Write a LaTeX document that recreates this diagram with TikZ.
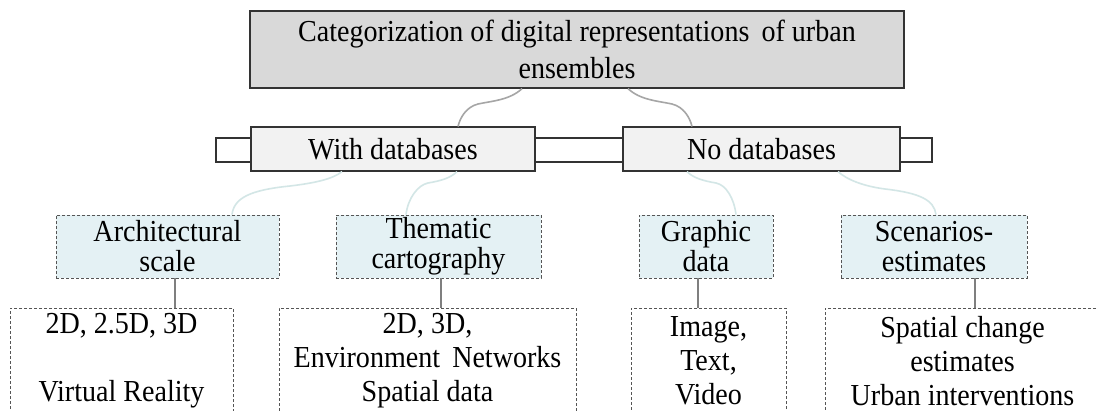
\documentclass[tikz,border=0pt]{standalone}
\usepackage{fontspec}
\setmainfont[FakeStretch=0.92]{Liberation Serif}
\definecolor{topfill}{HTML}{D9D9D9}
\definecolor{lvfill}{HTML}{F2F2F2}
\definecolor{catfill}{HTML}{E4F1F4}
\definecolor{edgedark}{HTML}{333333}
\definecolor{dashcol}{HTML}{555555}
\definecolor{curveA}{HTML}{A6A6A6}
\definecolor{curveB}{HTML}{D3E6E6}
\definecolor{vline}{HTML}{7F7F7F}
\begin{document}
\begin{tikzpicture}[x=1pt,y=-1pt,
  every node/.style={inner sep=0pt, align=center},
  topbox/.style={draw=edgedark, line width=1.2pt, fill=topfill, font=\fontsize{30.5}{37}\selectfont},
  barbox/.style={draw=edgedark, line width=1.1pt, fill=white},
  lvbox/.style={draw=edgedark, line width=1.1pt, fill=lvfill, font=\fontsize{30.5}{34}\selectfont},
  catbox/.style={draw=dashcol, line width=0.9pt, dash pattern=on 3pt off 2pt, fill=catfill, font=\fontsize{30.5}{30}\selectfont},
  detbox/.style={draw=dashcol, line width=0.9pt, dash pattern=on 3pt off 2pt, fill=white, font=\fontsize{30.5}{34}\selectfont},
  lvone/.style={draw=curveA, line width=1.6pt},
  lvtwo/.style={draw=curveB, line width=1.6pt},
  vconn/.style={draw=vline, line width=1.3pt}]
\useasboundingbox (0,0) rectangle (1098,410);
\clip (0,0) rectangle (1098,410);
\fill[white] (0,0) rectangle (1098,410);

% top
\node[topbox, minimum width=654pt, minimum height=77pt] (top) at (577,49.5)
  {Categorization of digital representations\, of urban\\ensembles};

% bar and level 1
\node[barbox, minimum width=716pt, minimum height=24pt] (bar) at (574,150) {};
\node[lvbox, minimum width=284pt, minimum height=44pt] (withdb) at (393,149) {With databases};
\node[lvbox, minimum width=277pt, minimum height=44pt] (nodb) at (761.5,149) {No databases};

% level 2
\node[catbox, minimum width=223pt, minimum height=63pt] (arch) at (167.5,246.5) {Architectural\\scale};
\node[catbox, minimum width=205pt, minimum height=63pt] (them) at (438.5,246.5) {Thematic\\cartography};
\node[catbox, minimum width=134pt, minimum height=63pt] (graph) at (706,246.5) {Graphic\\data};
\node[catbox, minimum width=186pt, minimum height=63pt] (scen) at (934,246.5) {Scenarios-\\estimates};

% details
\node[detbox, minimum width=223pt, minimum height=106pt] (archd) at (121.5,361) {2D, 2.5D, 3D\\[34pt]Virtual Reality};
\node[detbox, minimum width=297pt, minimum height=106pt] (themd) at (427.5,361) {2D, 3D,\\Environment\, Networks\\Spatial data};
\node[detbox, minimum width=155pt, minimum height=106pt] (graphd) at (708.5,361) {Image,\\Text,\\Video};
\node[detbox, minimum width=275pt, minimum height=106pt] (scend) at (962.5,361) {Spatial change\\estimates\\Urban interventions};

% connector anchor columns
\coordinate (xb0) at (522,0); \coordinate (xb1) at (458,0);
\coordinate (xc0) at (628,0); \coordinate (xc1) at (692,0);
\coordinate (xa0) at (342,0); \coordinate (xa1) at (232,0);
\coordinate (xe0) at (457,0); \coordinate (xe1) at (406,0);
\coordinate (xf0) at (687,0); \coordinate (xf1) at (736,0);
\coordinate (xg0) at (838,0); \coordinate (xg1) at (936,0);
\coordinate (v1) at (175,0); \coordinate (v2) at (441,0);
\coordinate (v3) at (698,0); \coordinate (v4) at (975,0);

% level 1 curves
\draw[lvone] (top.south -| xb0) .. controls (510,100) and (492,101) .. (478,104)
  .. controls (466,107) and (460,118) .. (withdb.north -| xb1);
\draw[lvone] (top.south -| xc0) .. controls (640,100) and (658,101) .. (672,104)
  .. controls (684,107) and (690,118) .. (nodb.north -| xc1);

% level 2 curves
\draw[lvtwo] (withdb.south -| xa0) .. controls (333,179) and (315,183) .. (290,186)
  .. controls (250,190) and (234,198) .. (arch.north -| xa1);
\draw[lvtwo] (withdb.south -| xe0) .. controls (451,178) and (440,181) .. (428,183)
  .. controls (418,185) and (408,198) .. (them.north -| xe1);
\draw[lvtwo] (nodb.south -| xf0) .. controls (693,178) and (704,181) .. (716,183)
  .. controls (726,185) and (734,198) .. (graph.north -| xf1);
\draw[lvtwo] (nodb.south -| xg0) .. controls (846,179) and (862,186) .. (885,189)
  .. controls (920,193) and (934,200) .. (scen.north -| xg1);

% vertical connectors
\draw[vconn] (arch.south -| v1) -- (archd.north -| v1);
\draw[vconn] (them.south -| v2) -- (themd.north -| v2);
\draw[vconn] (graph.south -| v3) -- (graphd.north -| v3);
\draw[vconn] (scen.south -| v4) -- (scend.north -| v4);
\end{tikzpicture}
\end{document}
